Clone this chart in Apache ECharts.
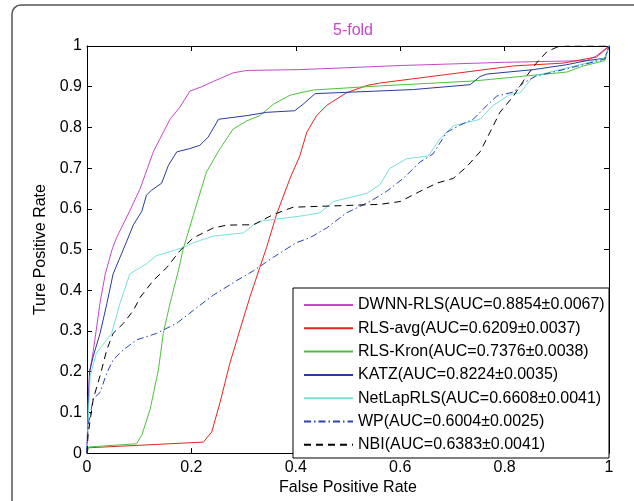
<!DOCTYPE html>
<html>
<head>
<meta charset="utf-8">
<script src="https://cdn.jsdelivr.net/npm/echarts@6/dist/echarts.min.js"></script>
<style>html,body{margin:0;padding:0;background:#fff;}#c{width:634px;height:501px;}</style>
</head>
<body>
<div id="c"></div>
<script>
const titleText = "5-fold";
const xName = "False Positive Rate";
const yName = "Ture Positive Rate";
const seriesNames = [
  "DWNN-RLS(AUC=0.8854±0.0067)",
  "RLS-avg(AUC=0.6209±0.0037)",
  "RLS-Kron(AUC=0.7376±0.0038)",
  "KATZ(AUC=0.8224±0.0035)",
  "NetLapRLS(AUC=0.6608±0.0041)",
  "WP(AUC=0.6004±0.0025)",
  "NBI(AUC=0.6383±0.0041)"
];
const dwnn = [[0,0],[0.002,0.12],[0.005,0.2],[0.012,0.25],[0.025,0.37],[0.035,0.44],[0.048,0.50],[0.057,0.53],[0.08,0.59],[0.102,0.65],[0.127,0.74],[0.159,0.82],[0.178,0.85],[0.197,0.889],[0.22,0.9],[0.242,0.913],[0.28,0.934],[0.306,0.94],[0.408,0.942],[0.6,0.952],[0.8,0.96],[0.957,0.964],[0.975,0.975],[0.99,0.99],[1,1]];
const rlsAvg = [[0,0],[0.002,0.013],[0.223,0.027],[0.239,0.052],[0.255,0.125],[0.274,0.222],[0.293,0.303],[0.312,0.383],[0.331,0.456],[0.344,0.505],[0.363,0.586],[0.389,0.675],[0.408,0.731],[0.421,0.788],[0.44,0.829],[0.459,0.854],[0.497,0.885],[0.536,0.903],[0.561,0.909],[0.689,0.93],[0.817,0.951],[0.912,0.958],[0.976,0.973],[0.992,0.99],[1,1]];
const rlsKron = [[0,0],[0.003,0.015],[0.095,0.023],[0.105,0.044],[0.121,0.108],[0.137,0.206],[0.146,0.294],[0.159,0.367],[0.175,0.448],[0.184,0.5],[0.204,0.586],[0.229,0.691],[0.255,0.748],[0.28,0.796],[0.306,0.816],[0.331,0.829],[0.357,0.857],[0.389,0.879],[0.408,0.885],[0.434,0.892],[0.561,0.902],[0.74,0.914],[0.919,0.936],[0.951,0.951],[0.992,0.964],[1,1]];
const katz = [[0,0],[0.002,0.1],[0.005,0.2],[0.012,0.238],[0.025,0.294],[0.038,0.367],[0.05,0.44],[0.063,0.48],[0.076,0.52],[0.089,0.561],[0.105,0.594],[0.114,0.634],[0.124,0.646],[0.143,0.663],[0.156,0.707],[0.172,0.74],[0.197,0.748],[0.216,0.756],[0.232,0.776],[0.252,0.82],[0.306,0.829],[0.344,0.837],[0.398,0.841],[0.414,0.857],[0.437,0.883],[0.625,0.893],[0.734,0.905],[0.753,0.925],[0.766,0.931],[0.855,0.942],[0.919,0.954],[0.957,0.964],[0.992,0.97],[1,1]];
const netLap = [[0,0],[0.002,0.076],[0.006,0.19],[0.018,0.246],[0.028,0.262],[0.047,0.294],[0.063,0.367],[0.082,0.44],[0.114,0.465],[0.133,0.485],[0.165,0.497],[0.184,0.505],[0.204,0.517],[0.242,0.533],[0.3,0.541],[0.319,0.561],[0.338,0.571],[0.408,0.582],[0.446,0.59],[0.472,0.618],[0.536,0.638],[0.561,0.659],[0.58,0.699],[0.612,0.723],[0.654,0.73],[0.676,0.772],[0.702,0.804],[0.753,0.82],[0.778,0.854],[0.81,0.881],[0.83,0.885],[0.855,0.926],[0.881,0.934],[0.944,0.954],[0.992,0.97],[1,1]];
const wp = [[0,0],[0.002,0.068],[0.012,0.133],[0.025,0.149],[0.038,0.197],[0.05,0.229],[0.07,0.254],[0.095,0.278],[0.133,0.294],[0.172,0.319],[0.204,0.351],[0.242,0.388],[0.287,0.424],[0.319,0.448],[0.357,0.481],[0.401,0.517],[0.427,0.529],[0.459,0.553],[0.497,0.59],[0.542,0.618],[0.574,0.643],[0.606,0.675],[0.638,0.715],[0.663,0.735],[0.689,0.788],[0.715,0.806],[0.74,0.82],[0.759,0.845],[0.785,0.877],[0.817,0.887],[0.836,0.909],[0.86,0.926],[0.9,0.938],[0.95,0.954],[0.992,0.968],[1,1]];
const nbi = [[0,0],[0.002,0.044],[0.012,0.133],[0.025,0.19],[0.038,0.254],[0.05,0.294],[0.07,0.319],[0.089,0.351],[0.102,0.383],[0.127,0.424],[0.153,0.456],[0.178,0.497],[0.204,0.529],[0.242,0.553],[0.268,0.56],[0.319,0.561],[0.357,0.586],[0.395,0.604],[0.466,0.607],[0.561,0.611],[0.6,0.618],[0.638,0.643],[0.67,0.663],[0.702,0.675],[0.727,0.703],[0.753,0.74],[0.772,0.788],[0.791,0.837],[0.817,0.877],[0.842,0.926],[0.861,0.958],[0.881,0.986],[0.9,0.997],[0.92,1],[1,1]];

const allData = [dwnn, rlsAvg, rlsKron, katz, netLap, wp, nbi];
const colors = ["#c846c8", "#e8231f", "#4cc23a", "#2a3a9e", "#74e0d8", "#2844b4", "#000000"];
const dashTypes = ["solid", "solid", "solid", "solid", "solid", [7, 3, 1.5, 3], [7, 5]];

const FONT = "Liberation Sans, Arial, sans-serif";
const FS = 16;
const chart = echarts.init(document.getElementById('c'), null, {renderer: 'canvas'});

const series = seriesNames.map((n, i) => ({
  name: n,
  type: 'line',
  data: allData[i],
  symbol: 'none',
  smooth: false,
  lineStyle: {color: colors[i], width: 1, type: dashTypes[i]},
  itemStyle: {color: colors[i]},
  z: 2,
  animation: false
}));

const axisCommon = {
  type: 'value', min: 0, max: 1,
  axisLine: {show: true, onZero: false, lineStyle: {color: '#000', width: 1}},
  axisTick: {show: true, inside: true, length: 5, lineStyle: {color: '#000'}},
  splitLine: {show: false}
};

chart.setOption({
  animation: false,
  backgroundColor: '#fff',
  color: colors,
  title: {
    text: titleText, left: 348, top: 18, textAlign: 'center',
    textStyle: {color: '#c846c8', fontSize: FS, fontWeight: 'normal', fontFamily: FONT}
  },
  grid: {left: 87, top: 46, right: 25, bottom: 43, containLabel: false},
  xAxis: [
    Object.assign({}, axisCommon, {
      position: 'bottom', interval: 0.2,
      name: xName, nameLocation: 'middle', nameGap: 26,
      nameTextStyle: {color: '#000', fontSize: FS, fontFamily: FONT},
      axisLabel: {color: '#000', fontSize: FS, fontFamily: FONT, margin: 6}
    }),
    Object.assign({}, axisCommon, {
      position: 'top', interval: 0.2, axisLabel: {show: false}
    })
  ],
  yAxis: [
    Object.assign({}, axisCommon, {
      position: 'left', interval: 0.1,
      name: yName, nameLocation: 'middle', nameGap: 32,
      nameTextStyle: {color: '#000', fontSize: FS, fontFamily: FONT},
      axisLabel: {color: '#000', fontSize: FS, fontFamily: FONT, margin: 5}
    }),
    Object.assign({}, axisCommon, {
      position: 'right', interval: 0.1, axisLabel: {show: false}
    })
  ],
  legend: {
    data: seriesNames,
    orient: 'vertical',
    left: 293, top: 288,
    padding: [9, 4, 6, 10],
    itemWidth: 49, itemHeight: 16, itemGap: 7.3,
    itemStyle: {opacity: 0},
    textStyle: {color: '#000', fontSize: FS, fontFamily: FONT, lineHeight: 16},
    selectedMode: false,
    z: 10
  },
  graphic: [
    {type: 'rect', shape: {x: 12, y: 5, width: 700, height: 600, r: 9}, style: {fill: 'none', stroke: '#555', lineWidth: 1.5}, z: 0, silent: true},
    {type: 'rect', shape: {x: 293, y: 288, width: 316, height: 170}, style: {fill: '#fff', stroke: '#000', lineWidth: 1}, z: 5, silent: true}
  ],
  series: series
});
</script>
</body>
</html>
